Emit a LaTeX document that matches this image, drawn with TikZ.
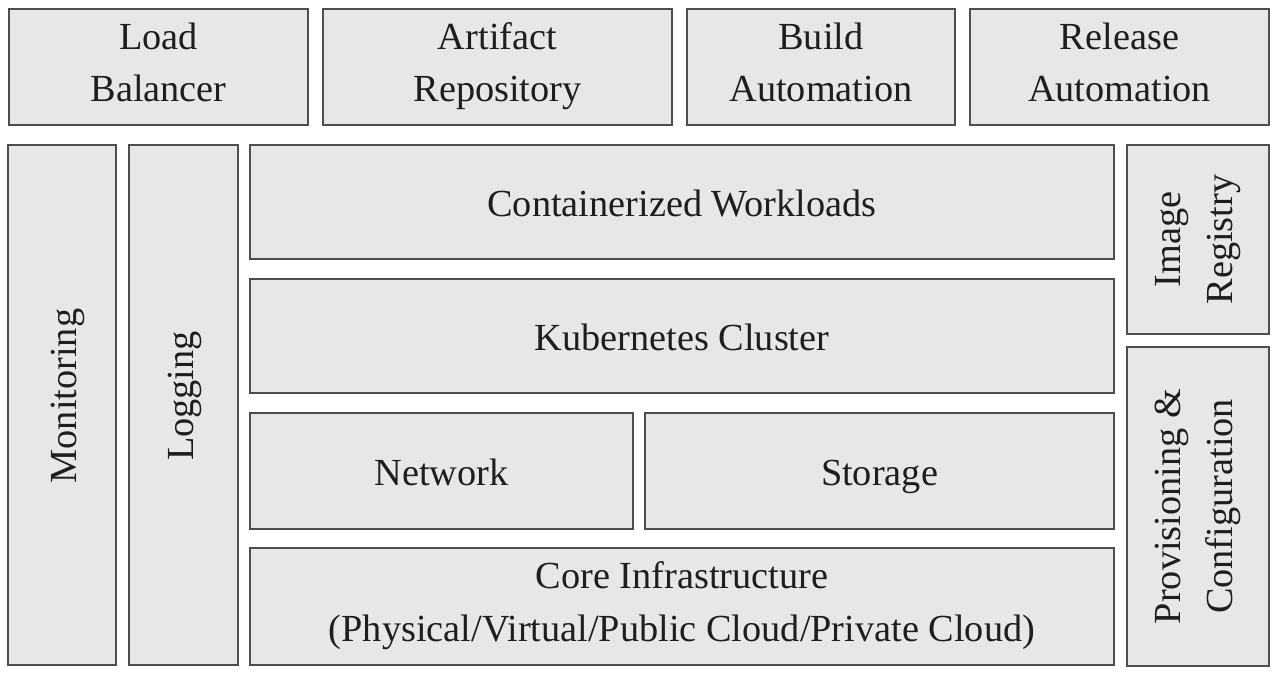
\documentclass[tikz,border=0pt]{standalone}
\usepackage{fontspec}
\setmainfont{Liberation Serif}
\definecolor{boxfill}{HTML}{E7E7E7}
\definecolor{boxline}{HTML}{4E4E4E}
\definecolor{txt}{HTML}{1E1E1E}
% struts: single line (baseline 14.5 below centre), two lines (first/last)
\newcommand\onestrut{\rule[-10pt]{0pt}{49pt}}
\newcommand\topstrut{\rule{0pt}{36pt}}
\newcommand\botstrut{\rule[-19pt]{0pt}{19pt}}
\begin{document}
\begin{tikzpicture}[x=1pt,y=-1pt,
  blk/.style={draw=boxline, fill=boxfill, line width=2pt, inner sep=0pt,
    align=center, text=txt, font=\fontsize{38.3}{52.5}\selectfont}]
\useasboundingbox[fill=white] (0,0) rectangle (1278,676);
% top row
\node[blk, minimum width=299pt, minimum height=116pt] (lb) at (158.5,67) {\topstrut Load\\Balancer\botstrut};
\node[blk, minimum width=349pt, minimum height=116pt] (ar) at (497.5,67) {\topstrut Artifact\\Repository\botstrut};
\node[blk, minimum width=268pt, minimum height=116pt] (ba) at (821,67) {\topstrut Build\\Automation\botstrut};
\node[blk, minimum width=299pt, minimum height=116pt] (ra) at (1119.5,67) {\topstrut Release\\Automation\botstrut};
% left columns (rotated)
\node[blk, rotate=90, minimum width=520pt, minimum height=108pt] (mon) at (62,405) {\hspace*{18pt}\onestrut Monitoring};
\node[blk, rotate=90, minimum width=520pt, minimum height=109pt] (log) at (183.5,405) {\hspace*{18pt}\rule[-15pt]{0pt}{49pt}Logging};
% centre stack
\node[blk, minimum width=864pt, minimum height=114pt] (cw) at (682,202) {\onestrut Containerized Workloads};
\node[blk, minimum width=864pt, minimum height=114pt] (kc) at (682,336) {\onestrut Kubernetes Cluster};
\node[blk, minimum width=383pt, minimum height=116pt] (net) at (441.5,471) {\onestrut Network};
\node[blk, minimum width=469pt, minimum height=116pt] (sto) at (879.5,471) {\onestrut Storage};
\node[blk, minimum width=864pt, minimum height=117pt] (core) at (682,606.5) {\topstrut Core Infrastructure\\(Physical/Virtual/Public Cloud/Private Cloud)\botstrut};
% right column (rotated)
\node[blk, rotate=90, minimum width=189pt, minimum height=142pt] (ir) at (1198,239.5) {\topstrut Image\\Registry\botstrut};
\node[blk, rotate=90, minimum width=319pt, minimum height=142pt] (pc) at (1198,506.5) {\topstrut Provisioning \&\\Configuration\botstrut};
\end{tikzpicture}
\end{document}
